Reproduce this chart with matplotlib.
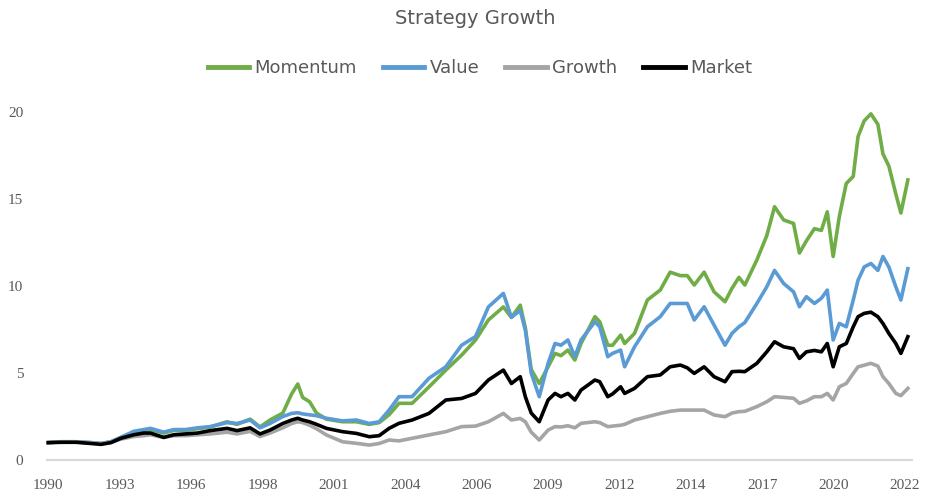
import matplotlib
matplotlib.use("Agg")
import matplotlib.pyplot as plt
import numpy as np

# ---- data ----
dates = [1990.50, 1990.98, 1991.54, 1992.10, 1992.47, 1992.84, 1993.21, 1993.69,
         1994.06, 1994.32, 1994.81, 1995.18, 1995.62, 1996.07, 1996.55, 1997.18,
         1997.55, 1998.04, 1998.41, 1998.78, 1999.26, 1999.59, 1999.82, 2000.00,
         2000.26, 2000.52, 2000.89, 2001.49, 2002.01, 2002.49, 2002.86, 2003.23,
         2003.60, 2004.09, 2004.72, 2005.35, 2005.94, 2006.46, 2006.94, 2007.50,
         2007.80, 2008.13, 2008.32, 2008.54, 2008.84, 2009.17, 2009.43, 2009.65,
         2009.91, 2010.17, 2010.40, 2010.92, 2011.10, 2011.40, 2011.58, 2011.88,
         2012.03, 2012.40, 2012.88, 2013.36, 2013.73, 2014.11, 2014.37, 2014.63,
         2015.00, 2015.37, 2015.78, 2016.04, 2016.30, 2016.52, 2016.97, 2017.34,
         2017.63, 2017.97, 2018.34, 2018.56, 2018.82, 2019.12, 2019.38, 2019.60,
         2019.82, 2020.05, 2020.31, 2020.57, 2020.75, 2020.98, 2021.23, 2021.49,
         2021.68, 2021.90, 2022.16, 2022.35, 2022.61]

momentum = [1.00, 1.05, 1.05, 1.00, 0.95, 1.05, 1.30, 1.60, 1.70, 1.75, 1.55, 1.70,
            1.70, 1.80, 1.90, 2.20, 2.05, 2.35, 1.90, 2.30, 2.70, 3.80, 4.37, 3.60,
            3.35, 2.70, 2.35, 2.20, 2.20, 2.05, 2.15, 2.60, 3.26, 3.26, 4.20, 5.17,
            6.03, 6.90, 8.05, 8.80, 8.20, 8.90, 7.60, 5.20, 4.40, 5.36, 6.13, 6.00,
            6.32, 5.75, 6.70, 8.24, 7.95, 6.60, 6.60, 7.18, 6.70, 7.28, 9.20, 9.77,
            10.80, 10.60, 10.60, 10.06, 10.80, 9.67, 9.10, 9.87, 10.50, 10.06, 11.50, 12.90,
            14.56, 13.80, 13.60, 11.90, 12.60, 13.30, 13.20, 14.27, 11.70, 14.00, 15.90, 16.30,
            18.60, 19.50, 19.90, 19.30, 17.60, 16.90, 15.30, 14.20, 16.10]

value = [1.00, 1.05, 1.05, 1.00, 0.95, 1.05, 1.30, 1.65, 1.75, 1.82, 1.60, 1.75,
         1.75, 1.85, 1.92, 2.15, 2.10, 2.30, 1.85, 2.10, 2.50, 2.68, 2.72, 2.65,
         2.60, 2.55, 2.40, 2.25, 2.30, 2.10, 2.20, 2.87, 3.64, 3.64, 4.70, 5.36,
         6.60, 7.10, 8.80, 9.58, 8.20, 8.60, 7.47, 5.00, 3.64, 5.56, 6.70, 6.60,
         6.90, 5.94, 6.90, 7.95, 7.66, 5.94, 6.13, 6.32, 5.36, 6.51, 7.66, 8.24,
         9.00, 9.00, 9.00, 8.05, 8.81, 7.76, 6.60, 7.28, 7.66, 7.90, 9.00, 9.96,
         10.90, 10.15, 9.67, 8.81, 9.39, 9.00, 9.30, 9.77, 6.90, 7.85, 7.66, 9.20,
         10.34, 11.10, 11.30, 10.90, 11.70, 11.10, 9.96, 9.20, 11.00]

growth = [1.00, 1.03, 1.03, 0.98, 0.93, 1.02, 1.20, 1.35, 1.40, 1.45, 1.30, 1.40,
          1.40, 1.45, 1.50, 1.60, 1.50, 1.65, 1.35, 1.55, 1.85, 2.10, 2.20, 2.15,
          2.00, 1.80, 1.44, 1.05, 0.96, 0.86, 0.95, 1.15, 1.10, 1.25, 1.44, 1.63,
          1.92, 1.95, 2.20, 2.68, 2.30, 2.39, 2.20, 1.60, 1.15, 1.72, 1.92, 1.90,
          1.97, 1.85, 2.11, 2.20, 2.15, 1.92, 1.95, 2.00, 2.05, 2.30, 2.49, 2.68,
          2.80, 2.87, 2.87, 2.87, 2.87, 2.59, 2.49, 2.70, 2.78, 2.80, 3.07, 3.35,
          3.64, 3.60, 3.55, 3.26, 3.40, 3.64, 3.64, 3.83, 3.45, 4.21, 4.40, 4.98,
          5.36, 5.45, 5.56, 5.40, 4.79, 4.40, 3.83, 3.70, 4.12]

market = [1.00, 1.02, 1.02, 0.95, 0.90, 1.00, 1.25, 1.45, 1.55, 1.55, 1.30, 1.45,
          1.50, 1.55, 1.69, 1.82, 1.69, 1.85, 1.50, 1.72, 2.10, 2.30, 2.40, 2.30,
          2.20, 2.05, 1.82, 1.63, 1.53, 1.34, 1.40, 1.82, 2.11, 2.30, 2.68, 3.45,
          3.54, 3.83, 4.60, 5.17, 4.40, 4.79, 3.64, 2.70, 2.20, 3.45, 3.83, 3.64,
          3.83, 3.45, 4.02, 4.60, 4.50, 3.64, 3.80, 4.21, 3.83, 4.12, 4.79, 4.89,
          5.36, 5.46, 5.30, 4.98, 5.36, 4.79, 4.50, 5.08, 5.10, 5.08, 5.56, 6.22,
          6.80, 6.51, 6.40, 5.84, 6.22, 6.30, 6.22, 6.70, 5.36, 6.51, 6.70, 7.66,
          8.24, 8.43, 8.50, 8.24, 7.85, 7.28, 6.70, 6.13, 7.09]

series_names = ["Momentum", "Value", "Growth", "Market"]
series_colors = ["#70AD47", "#5B9BD5", "#A5A5A5", "#000000"]

x_tick_labels = ["1990", "1993", "1996", "1998", "2001", "2004", "2006",
                 "2009", "2012", "2014", "2017", "2020", "2022"]
y_ticks = [0, 5, 10, 15, 20]

# ---- figure ----
fig = plt.figure(figsize=(9.30, 4.97), dpi=100)
ax = fig.add_axes([0.0505, 0.0744, 0.930, 0.700])

text_color = "#595959"
for name, vals, col in zip(series_names, [momentum, value, growth, market], series_colors):
    ax.plot(dates, vals, color=col, lw=2.6, label=name, clip_on=False,
            solid_joinstyle="round")

ax.set_ylim(0, 20)
ax.set_xlim(dates[0] - 0.05, dates[-1] + 0.15)

tick_pos = [dates[0] + k * (8.0 / 3.0) for k in range(len(x_tick_labels))]
ax.set_xticks(tick_pos)
ax.set_xticklabels(x_tick_labels)
ax.set_yticks(y_ticks)
ax.set_yticklabels([str(v) for v in y_ticks])

for lab in ax.get_xticklabels() + ax.get_yticklabels():
    lab.set_fontfamily("Liberation Serif")
    lab.set_fontsize(11)
    lab.set_color(text_color)

ax.tick_params(axis="both", length=0)
ax.tick_params(axis="x", pad=14)
ax.tick_params(axis="y", pad=17)

for s in ["top", "right", "left"]:
    ax.spines[s].set_visible(False)
ax.spines["bottom"].set_color("#D9D9D9")
ax.spines["bottom"].set_linewidth(1.5)
ax.spines["bottom"].set_zorder(0)

fig.text(0.511, 0.963, "Strategy Growth", ha="center", va="center",
         fontsize=14, color=text_color, family="DejaVu Sans")

leg = fig.legend(loc="center", bbox_to_anchor=(0.516, 0.863), ncol=4,
                 frameon=False, handlelength=2.3, handletextpad=0.28,
                 columnspacing=1.45, prop={"family": "DejaVu Sans", "size": 13})
for t in leg.get_texts():
    t.set_color(text_color)
for h in leg.legend_handles:
    h.set_linewidth(3.5)

fig.savefig("out.png", dpi=100)
